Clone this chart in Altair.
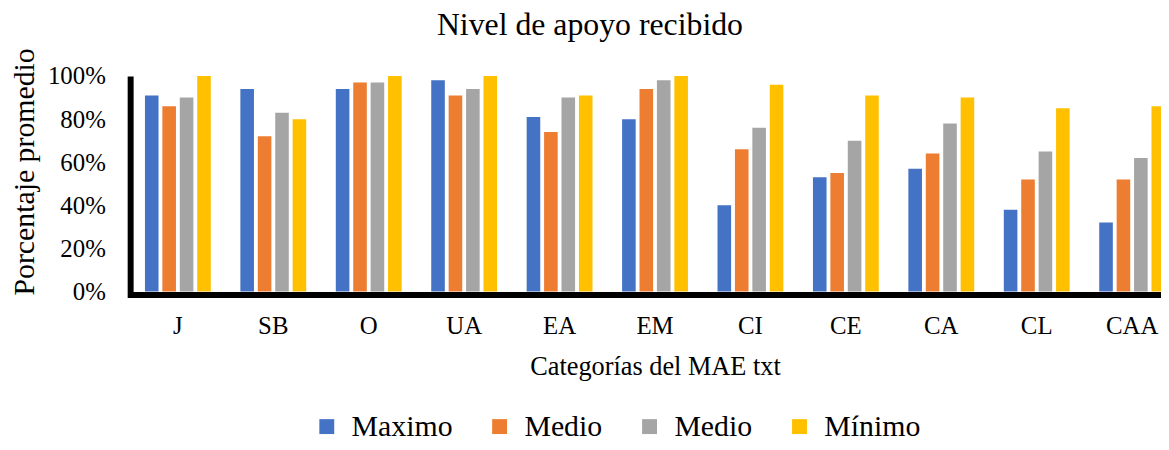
import altair as alt
import pandas as pd

categories = ["J", "SB", "O", "UA", "EA", "EM", "CI", "CE", "CA", "CL", "CAA"]
# second "Medio" carries a zero-width space so both legend entries stay distinct
series_labels = ["Maximo", "Medio", "Medio\u200b", "Mínimo"]
maximo = [91, 94, 94, 98, 81, 80, 40, 53, 57, 38, 32]
medio_a = [86, 72, 97, 91, 74, 94, 66, 55, 64, 52, 52]
medio_b = [90, 83, 97, 94, 90, 98, 76, 70, 78, 65, 62]
minimo = [100, 80, 100, 100, 91, 100, 96, 91, 90, 85, 86]
colors = ["#4472C4", "#ED7D31", "#A5A5A5", "#FFC000"]
y_ticks = [0, 0.2, 0.4, 0.6, 0.8, 1.0]

rows = []
for lab, vals in zip(series_labels, [maximo, medio_a, medio_b, minimo]):
    for c, v in zip(categories, vals):
        rows.append({"cat": c, "serie": lab, "valor": v / 100})
df = pd.DataFrame(rows)

FONT = "Liberation Serif"

chart = alt.Chart(df).mark_bar().encode(
    x=alt.X(
        "cat:N",
        sort=categories,
        scale=alt.Scale(range=[0, 1057], paddingInner=0.31, paddingOuter=0.155),
        axis=alt.Axis(
            title="Categorías del MAE txt",
            titleFont=FONT, titleFontSize=26.5, titleFontWeight="normal", titleColor="black",
            titleBaseline="alphabetic", titleY=81,
            labelFont=FONT, labelFontSize=25, labelColor="black", labelAngle=0,
            labelPadding=19, ticks=False, tickSize=0,
            domainColor="black", domainWidth=6, domainCap="square", offset=3,
        ),
    ),
    xOffset=alt.XOffset(
        "serie:N", sort=series_labels,
        scale=alt.Scale(paddingInner=0.22, paddingOuter=0),
    ),
    y=alt.Y(
        "valor:Q",
        scale=alt.Scale(domain=[0, 1], nice=False),
        axis=alt.Axis(
            title="Porcentaje promedio",
            titleFont=FONT, titleFontSize=30, titleFontWeight="normal", titleColor="black",
            titleAngle=-90, titleAlign="center", titleBaseline="alphabetic",
            titleX=-97, titleY=96,
            values=y_ticks, format=".0%",
            labelFont=FONT, labelFontSize=25, labelColor="black",
            labelPadding=25, ticks=False, tickSize=0, grid=False,
            domainColor="black", domainWidth=6,
        ),
    ),
    color=alt.Color(
        "serie:N",
        sort=series_labels,
        scale=alt.Scale(domain=series_labels, range=colors),
        legend=alt.Legend(
            title=None, orient="none", direction="horizontal",
            legendX=183, legendY=338,
            symbolType="square", symbolSize=225, symbolStrokeWidth=0,
            labelFont=FONT, labelFontSize=30, labelColor="black",
            labelOffset=10, columnPadding=32, padding=0,
        ),
    ),
).properties(
    width=1038,
    height=217,
    title=alt.TitleParams(
        "Nivel de apoyo recibido", font=FONT, fontSize=32, fontWeight="normal",
        color="black", anchor="middle", dx=-56, offset=6,
    ),
    autosize=alt.AutoSizeParams(type="none"),
    padding={"left": 123, "top": 67, "right": 0, "bottom": 150},
).configure(
    font=FONT
).configure_view(stroke=None)

chart.save("out.html", embed_options={"renderer": "svg", "actions": False})
